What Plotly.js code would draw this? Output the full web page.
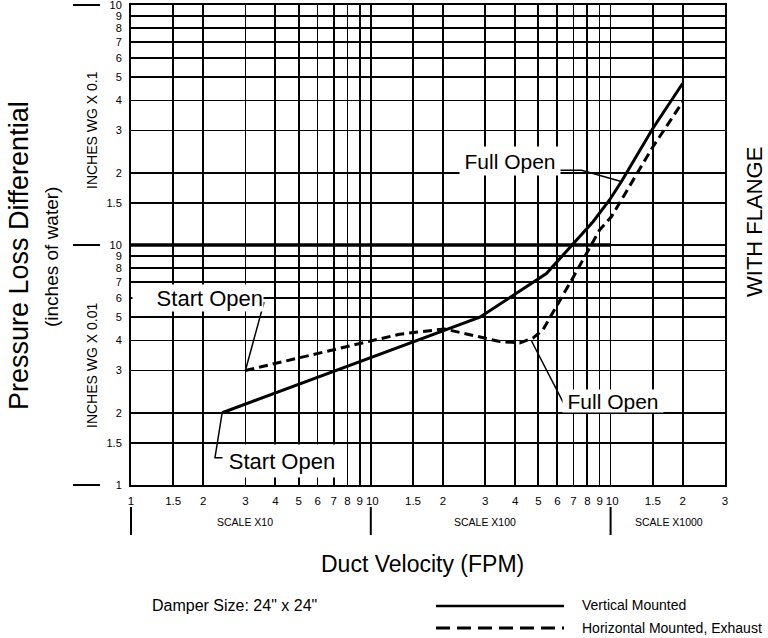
<!DOCTYPE html>
<html><head><meta charset="utf-8">
<script src="https://cdn.plot.ly/plotly-3.0.1.min.js"></script>
<style>html,body{margin:0;padding:0;background:#fff}#chart{width:768px;height:638px}</style>
</head><body><div id="chart"></div>
<script>
const FONT = 'Liberation Sans, Arial, Helvetica, sans-serif';

// ---- axis ticks ----
const X_TICK_VALUES = [10,15,20,30,40,50,60,70,80,90,100,150,200,300,400,500,600,700,800,900,1000,1500,2000,3000];
const X_TICK_LABELS = ['1','1.5','2','3','4','5','6','7','8','9',' 10','1.5','2','3','4','5','6','7','8','9',' 10','1.5','2','3'];
const Y_TICK_VALUES = [0.001,0.0015,0.002,0.003,0.004,0.005,0.006,0.007,0.008,0.009,0.01,0.015,0.02,0.03,0.04,0.05,0.06,0.07,0.08,0.09,0.1];
const Y_TICK_LABELS = ['1','1.5','2','3','4','5','6','7','8','9','10','1.5','2','3','4','5','6','7','8','9','10'];
const X_DECADES = [10, 100, 1000];
const Y_DECADES = [0.001, 0.01, 0.1];
const SCALE_LABELS = ['SCALE X10', 'SCALE X100', 'SCALE X1000'];
const SCALE_LABEL_AT = [30, 300, 1750];

// ---- series (Duct velocity FPM, pressure loss in. w.g.) ----
const VELOCITY_VERTICAL = [24, 285, 540, 845, 990, 1110, 1500, 2000];
const LOSS_VERTICAL     = [0.0020, 0.0050, 0.0076, 0.0125, 0.0154, 0.0184, 0.0306, 0.0472];
const VELOCITY_HORIZONTAL = [30, 132, 203, 271, 345, 418, 475, 522, 696, 900, 1007, 1500, 2000];
const LOSS_HORIZONTAL     = [0.0030, 0.00425, 0.00447, 0.00420, 0.00396, 0.00391, 0.00410, 0.00443, 0.00729, 0.01155, 0.0131, 0.0256, 0.0395];

// emphasised 0.01 grid segment
const EMPHASIS_X = [10, 1000];
const EMPHASIS_Y = [0.01, 0.01];

// callout labels and their leader lines
const LABEL_TEXT = ['Start Open', 'Start Open', 'Full Open', 'Full Open'];
const LABEL_X = [19, 42.8, 381, 1019];
const LABEL_Y = [0.006, 0.00126, 0.0223, 0.00223];
const LEADER_X = [[34.1, 35.8, 30], [24, 22.4, 25.1], [601, 757, 1108], [643, 467]];
const LEADER_Y = [[0.00573, 0.00573, 0.003], [0.002, 0.0013, 0.0013], [0.0205, 0.0205, 0.0184], [0.00215, 0.0040]];

const LEGEND_NAMES = ['Vertical Mounted', 'Horizontal Mounted, Exhaust'];

// ---- geometry helpers (plot area 131..725 x 5..485 px) ----
const PW = 594, PH = 480, L = 131, T = 5;
const px = v => (v - L) / PW;
const py = v => (T + PH - v) / PH;
const xLog = v => (Math.log10(v) - 1) / (Math.log10(3000) - 1);
const yLog = v => (Math.log10(v) + 3) / 2;

const traces = [
  {x: EMPHASIS_X, y: EMPHASIS_Y, mode: 'lines', line: {color: '#000', width: 3.5}, hoverinfo: 'skip', showlegend: false},
  {x: VELOCITY_VERTICAL, y: LOSS_VERTICAL, mode: 'lines', name: LEGEND_NAMES[0],
   line: {color: '#000', width: 3}, showlegend: false},
  {x: VELOCITY_HORIZONTAL, y: LOSS_HORIZONTAL, mode: 'lines', name: LEGEND_NAMES[1],
   line: {color: '#000', width: 3, dash: '9px,5px'}, showlegend: false}
];
LEADER_X.forEach((lx, i) => traces.push({x: lx, y: LEADER_Y[i], mode: 'lines',
  line: {color: '#000', width: 1.5}, hoverinfo: 'skip', showlegend: false}));

const annotations = [];
const boxes = [{w: 130, h: 26, align: 'right'}, {w: 118, h: 32, align: 'center'},
               {w: 100, h: 28, align: 'center'}, {w: 100, h: 22, align: 'center'}];
LABEL_TEXT.forEach((t, i) => annotations.push({
  text: t, xref: 'x', yref: 'y', x: Math.log10(LABEL_X[i]), y: Math.log10(LABEL_Y[i]),
  xanchor: 'center', yanchor: 'middle',
  showarrow: false, bgcolor: '#fff', borderpad: 0, width: boxes[i].w, height: boxes[i].h,
  align: boxes[i].align, font: {family: FONT, size: i < 2 ? 22 : 21, color: '#000'}
}));
function note(text, x, y, size, extra) {
  annotations.push(Object.assign({text: text, xref: 'paper', yref: 'paper', x: x, y: y,
    xanchor: 'center', yanchor: 'middle', showarrow: false,
    font: {family: FONT, size: size, color: '#000'}}, extra || {}));
}
SCALE_LABELS.forEach((t, i) => note(t, xLog(SCALE_LABEL_AT[i]), py(522), 10.5));
note('Pressure Loss Differential', px(19), py(256), 27, {textangle: -90});
note('(inches of water)', px(51), py(257), 19, {textangle: -90});
note('INCHES WG X 0.1', px(92), py(130), 14, {textangle: -90});
note('INCHES WG X 0.01', px(92), py(366), 14, {textangle: -90});
note('WITH FLANGE', px(755), py(222), 22, {textangle: -90});
note('Duct Velocity (FPM)', px(422), py(564), 23);
note('Damper Size: 24" x 24"', px(150), py(605), 16, {xanchor: 'left'});
note(LEGEND_NAMES[0], px(580), py(605), 14, {xanchor: 'left'});
note(LEGEND_NAMES[1], px(580), py(628), 14, {xanchor: 'left'});

const shapes = [];
X_DECADES.forEach(v => shapes.push({type: 'line', xref: 'paper', yref: 'paper',
  x0: xLog(v), x1: xLog(v), y0: py(507), y1: py(535), line: {color: '#000', width: 2}}));
Y_DECADES.forEach(v => shapes.push({type: 'line', xref: 'paper', yref: 'paper',
  x0: px(73), x1: px(100), y0: yLog(v), y1: yLog(v), line: {color: '#000', width: 2}}));
shapes.push(
  {type: 'line', xref: 'paper', yref: 'paper', x0: px(436), x1: px(564), y0: py(606), y1: py(606),
   line: {color: '#000', width: 2.5}},
  {type: 'line', xref: 'paper', yref: 'paper', x0: px(436), x1: px(564), y0: py(628), y1: py(628),
   line: {color: '#000', width: 3, dash: '14px,7px'}}
);

const axisCommon = {
  type: 'log', showgrid: true, gridcolor: '#000', gridwidth: 1.8, zeroline: false,
  showline: true, linecolor: '#000', linewidth: 2, mirror: true, ticks: '',
  tickmode: 'array', fixedrange: true, ticklabeloverflow: 'allow'
};

const layout = {
  width: 768, height: 638, paper_bgcolor: '#fff', plot_bgcolor: '#fff',
  margin: {l: 131, r: 43, t: 5, b: 153},
  showlegend: false,
  font: {family: FONT, color: '#000'},
  xaxis: Object.assign({}, axisCommon, {range: [1, Math.log10(3000) + 0.0001], tickvals: X_TICK_VALUES,
    ticktext: X_TICK_LABELS, tickangle: 0, tickfont: {family: FONT, size: 11.5, color: '#000'}, ticklabelstandoff: 4}),
  yaxis: Object.assign({}, axisCommon, {range: [-3.0001, -0.9999], tickvals: Y_TICK_VALUES,
    ticktext: Y_TICK_LABELS, tickfont: {family: FONT, size: 11, color: '#000'}, ticklabelstandoff: 5}),
  annotations: annotations,
  shapes: shapes
};

Plotly.newPlot('chart', traces, layout, {displayModeBar: false, staticPlot: true});
</script>
</body></html>
